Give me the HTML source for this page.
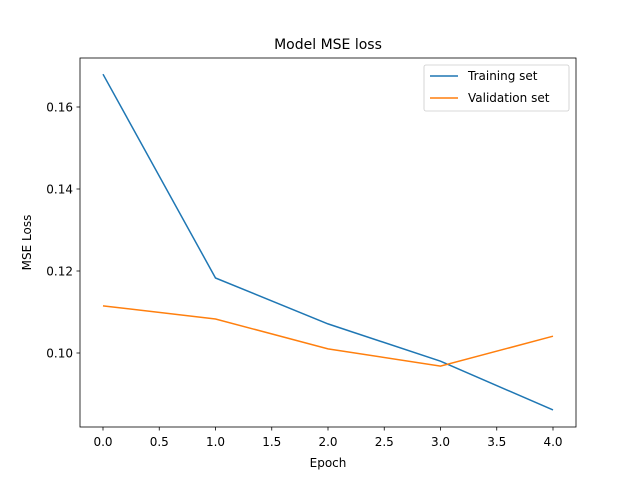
<!DOCTYPE html>
<html><head><meta charset="utf-8"><style>
body{margin:0;background:#fff;font-family:"Liberation Sans","DejaVu Sans",sans-serif}
svg text{font-family:"DejaVu Sans","Liberation Sans",sans-serif;fill:#000}
</style></head><body>
<svg id="chart" width="640" height="480">
<rect x="0" y="0" width="640" height="480" fill="#fff"/>
<text x="328" y="49" font-size="14" text-anchor="middle">Model MSE loss</text>
<g id="ticks"></g>
<g id="series"></g>
<rect x="80" y="58" width="496" height="369" fill="none" stroke="#000" stroke-width="0.8"/>
<text x="328" y="467" font-size="12" text-anchor="middle">Epoch</text>
<text transform="translate(31,242.5) rotate(-90)" font-size="12" text-anchor="middle">MSE Loss</text>
<g>
<rect x="424" y="65" width="145" height="46" rx="2" fill="#fff" stroke="#ccc" stroke-width="0.8"/>
<line x1="430" y1="76" x2="458" y2="76" stroke="#1f77b4" stroke-width="1.5"/>
<text x="468" y="80" font-size="12">Training set</text>
<line x1="430" y1="98" x2="458" y2="98" stroke="#ff7f0e" stroke-width="1.5"/>
<text x="468" y="102" font-size="12">Validation set</text>
</g>
</svg>
<script>
const epochs=[0,1,2,3,4];
const training=[0.1680,0.1183,0.1071,0.0980,0.0861];
const validation=[0.1115,0.1083,0.1010,0.0968,0.1041];
const xTicks=[0,0.5,1,1.5,2,2.5,3,3.5,4];
const xTickLabels=["0.0","0.5","1.0","1.5","2.0","2.5","3.0","3.5","4.0"];
const yTicks=[0.10,0.12,0.14,0.16];
const yTickLabels=["0.10","0.12","0.14","0.16"];
const ns="http://www.w3.org/2000/svg";
function sx(v){return 103+v*112.5;}
function sy(v){return 353-(v-0.10)*4100;}
const tg=document.getElementById('ticks');
function mk(t,a,p){const e=document.createElementNS(ns,t);for(const k in a)e.setAttribute(k,a[k]);p.appendChild(e);return e;}
xTicks.forEach((v,i)=>{
 const l=mk('line',{x1:sx(v),x2:sx(v),y1:427,y2:430.5,stroke:'#000','stroke-width':0.8},tg);
 
 
 const t=mk('text',{x:sx(v),y:446,'font-size':12,'text-anchor':'middle'},tg);t.textContent=xTickLabels[i];
 
 
});
yTicks.forEach((v,i)=>{
 const l=mk('line',{x1:76.5,x2:80,y1:sy(v),y2:sy(v),stroke:'#000','stroke-width':0.8},tg);
 
 
 const t=mk('text',{x:73,y:sy(v)+4.5,'font-size':12,'text-anchor':'end'},tg);t.textContent=yTickLabels[i];
 
 
});
const sg=document.getElementById('series');
[[training,'#1f77b4','training-line'],[validation,'#ff7f0e','validation-line']].forEach(([d,c,n])=>{
 const p=mk('polyline',{points:d.map((v,i)=>sx(epochs[i])+','+sy(v)).join(' '),fill:'none',stroke:c,'stroke-width':1.5},sg);
 
 
});
</script>
</body></html>
